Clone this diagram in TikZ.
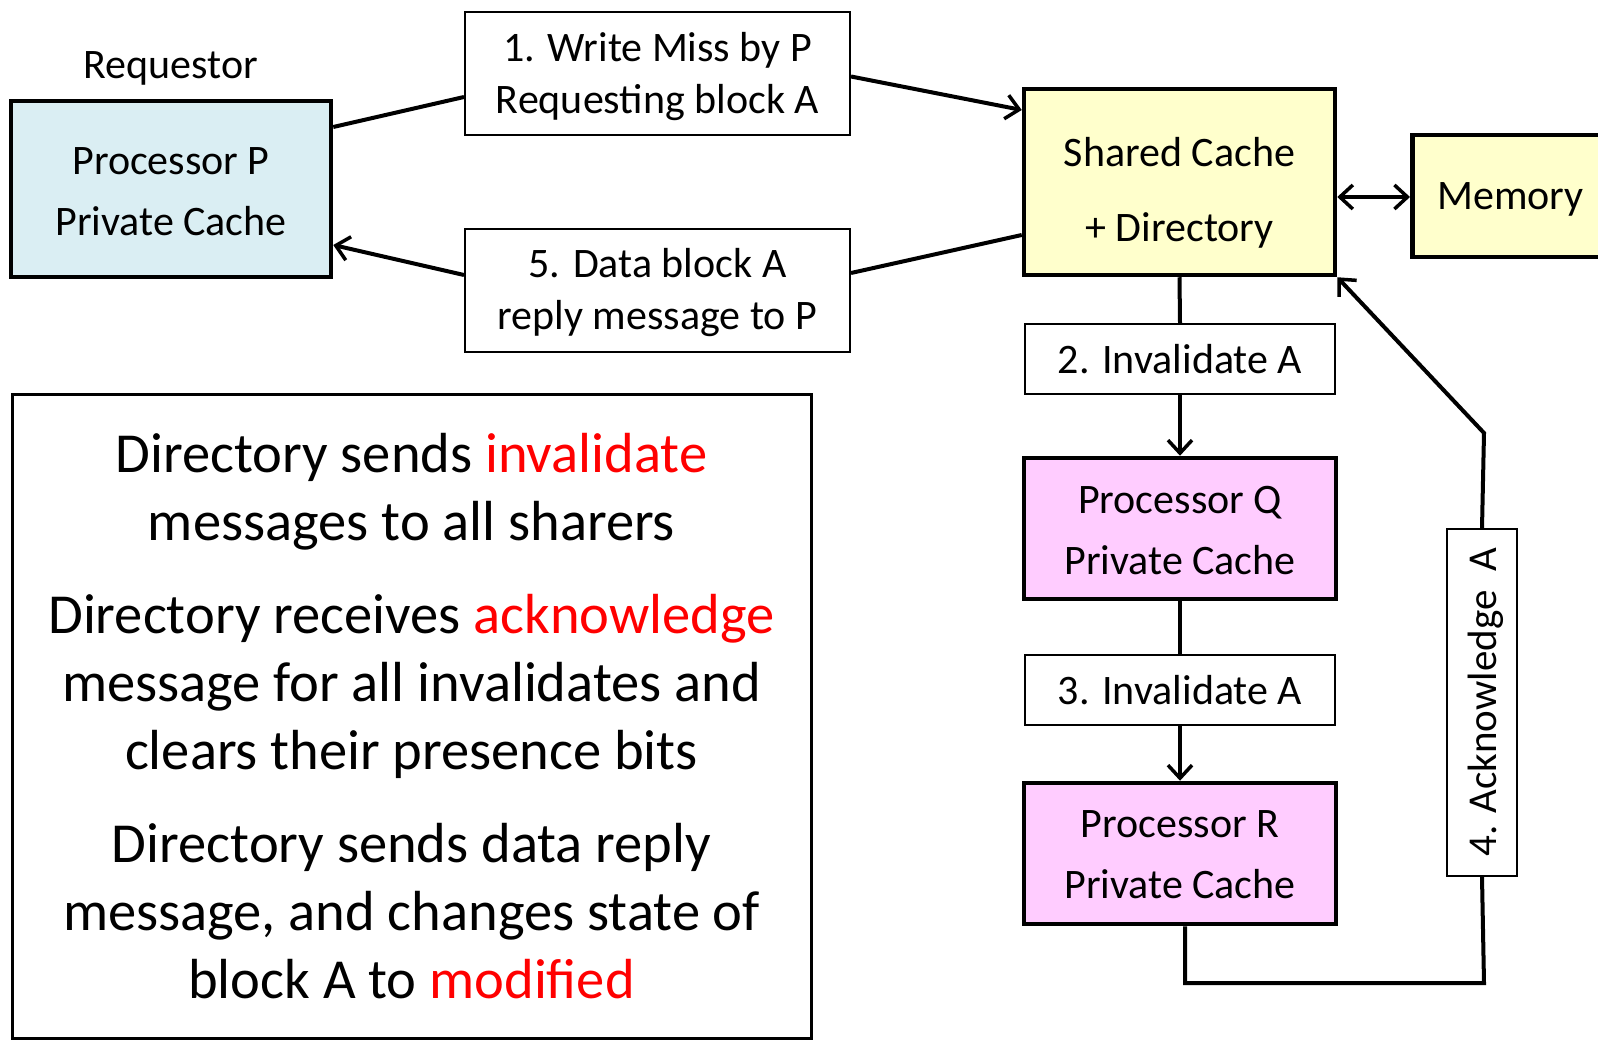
\documentclass[tikz,border=0pt]{standalone}
\usepackage{fontspec}
\setmainfont{Carlito}
\usetikzlibrary{arrows.meta}
\definecolor{pblue}{HTML}{DAEEF3}
\definecolor{syellow}{HTML}{FFFFCC}
\definecolor{qpink}{HTML}{FFCCFF}
\definecolor{redtxt}{HTML}{FF0000}
\newcommand{\dntext}[2]{\raisebox{-#1}[\height][\depth]{\begin{tabular}{@{}c@{}}#2\end{tabular}}}
\begin{document}
\begin{tikzpicture}[x=1pt,y=-1pt,
  mainbox/.style={draw=black,line width=4.5pt,align=center,inner sep=0pt,
    font=\fontsize{42}{61}\selectfont},
  msgbox/.style={draw=black,line width=2pt,fill=white,align=center,inner sep=0pt,
    font=\fontsize{42}{52}\selectfont},
  conn/.style={line width=4pt},
  arr/.style={conn,-{Straight Barb[length=13pt,width=24pt,line width=3.5pt]}},
  darr/.style={conn,{Straight Barb[length=13pt,width=24pt,line width=3.5pt]}-{Straight Barb[length=13pt,width=24pt,line width=3.5pt]}}]
\useasboundingbox (0,0) rectangle (1598,1040);
\fill[white] (0,0) rectangle (1598,1040);

\node[font=\fontsize{42}{50}\selectfont] (req) at (171,68) {Requestor};
\node[mainbox,fill=pblue,minimum width=320pt,minimum height=176pt] (P) at (171,189)
  {\dntext{3.5pt}{Processor P\\Private Cache}};
\node[msgbox,minimum width=385pt,minimum height=123pt] (m1) at (657.5,73.5)
  {\dntext{4pt}{1. Write Miss by P\\Requesting block A}};
\node[msgbox,minimum width=385pt,minimum height=123pt] (m5) at (657.5,290.5)
  {\dntext{3pt}{5. Data block A\\reply message to P}};
\node[mainbox,fill=syellow,minimum width=311pt,minimum height=186pt,
  font=\fontsize{42}{75}\selectfont] (S) at (1179.5,182) {\dntext{7.5pt}{Shared Cache\\+ Directory}};
\node[mainbox,fill=syellow,anchor=west,minimum height=122pt,text width=240pt,
  align=left,inner xsep=25pt] (mem) at (1410,196) {\raisebox{-3pt}[\height][\depth]{Memory}};
\node[msgbox,minimum width=310pt,minimum height=70pt] (m2) at (1180,359) {2. Invalidate A};
\node[mainbox,fill=qpink,minimum width=312pt,minimum height=141pt] (Q) at (1180,528.5)
  {\dntext{3.5pt}{Processor Q\\Private Cache}};
\node[msgbox,minimum width=310pt,minimum height=70pt] (m3) at (1180,690) {3. Invalidate A};
\node[mainbox,fill=qpink,minimum width=312pt,minimum height=141pt] (R) at (1180,853.5)
  {\dntext{2.5pt}{Processor R\\Private Cache}};
\node[msgbox,minimum width=347pt,minimum height=70pt,rotate=90,
  font=\fontsize{41}{48}\selectfont] (ack) at (1482,702.5) {\raisebox{-4pt}[\height][\depth]{4. Acknowledge~~A}};
\node[draw=black,line width=3pt,minimum width=799pt,minimum height=644pt,align=center,
  inner sep=0pt,font=\fontsize{56.5}{68}\selectfont] (txt) at (411.5,716)
  {Directory sends \textcolor{redtxt}{invalidate}\\messages to all sharers\\[25pt]
   Directory receives \textcolor{redtxt}{acknowledge}\\message for all invalidates and\\clears their presence bits\\[25pt]
   Directory sends data reply\\message, and changes state of\\block A to \textcolor{redtxt}{modified}};

\coordinate (c1) at (1185,983);
\coordinate (c2) at (1484,983);
\coordinate (c3) at (1484,433);
\coordinate (se) at ([yshift=-15pt]S.east);

\draw[conn] ([yshift=62pt]P.east) -- ([yshift=-23.5pt]m1.west);
\draw[arr] ([yshift=-3pt]m1.east) -- ([yshift=72pt]S.west);
\draw[conn] ([yshift=-53pt]S.west) -- ([yshift=17.5pt]m5.east);
\draw[arr] ([yshift=15.5pt]m5.west) -- ([yshift=-56pt]P.east);
\draw[darr] (se) -- (mem.west |- se);
\draw[conn] (S.south) -- (m2.north);
\draw[arr] (m2.south) -- (Q.north);
\draw[conn] (Q.south) -- (m3.north);
\draw[arr] (m3.south) -- (R.north);
\draw[conn,line join=miter] ([xshift=5pt]R.south) -- (c1) -- (c2) -- (ack.west);
\draw[arr,line join=miter] (ack.east) -- (c3) -- (S.south east);
\end{tikzpicture}
\end{document}
